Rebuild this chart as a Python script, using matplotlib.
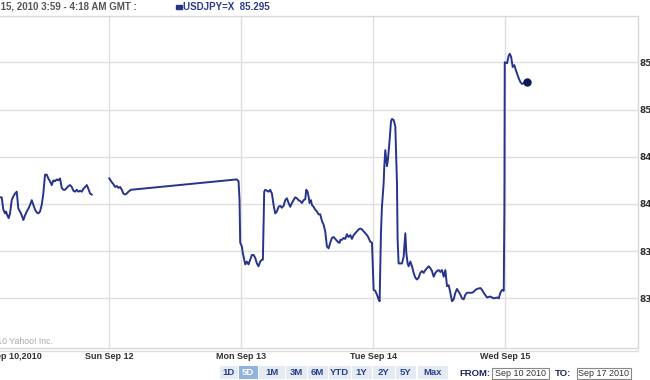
import matplotlib
matplotlib.use("Agg")
import matplotlib.pyplot as plt
from matplotlib.patches import Rectangle
from matplotlib.lines import Line2D

plt.rcParams["font.family"] = ["Liberation Sans", "DejaVu Sans"]

# ---------------- data (hours from Sun Sep 12 00:00 on the chart's time axis) ----------------
fri_hours = [-19.82, -19.51, -19.22, -18.91, -18.73, -18.49, -18.24, -18.00, -17.69, -17.40,
             -17.09, -16.78, -16.49, -16.18, -15.87, -15.58, -15.27, -14.96, -14.67, -14.36,
             -14.05, -13.76, -13.45, -13.15, -12.85, -12.55, -12.24, -11.95, -11.64, -11.33,
             -11.04, -10.73, -10.42, -10.13, -9.82, -9.51, -9.22, -8.91, -8.60, -8.31,
             -8.00, -7.69, -7.40, -7.09, -6.78, -6.49, -6.18, -5.87, -5.58, -5.27,
             -4.96, -4.67, -4.36, -4.05, -3.76, -3.45, -3.15]
fri_price = [84.07, 84.07, 83.94, 83.90, 83.92, 83.88, 83.85, 83.90, 84.04, 84.08,
             84.11, 84.13, 83.95, 83.92, 83.88, 83.83, 83.88, 83.92, 83.95, 83.99,
             84.04, 83.99, 83.94, 83.91, 83.90, 83.92, 83.99, 84.11, 84.31, 84.31,
             84.27, 84.24, 84.20, 84.25, 84.24, 84.26, 84.25, 84.27, 84.17, 84.15,
             84.15, 84.17, 84.19, 84.20, 84.18, 84.14, 84.13, 84.15, 84.13, 84.14,
             84.13, 84.16, 84.18, 84.20, 84.16, 84.11, 84.10]

week_hours = [0.05, 0.49, 0.78, 1.09, 1.40, 1.69, 2.00, 2.31, 2.60, 2.91, 3.20, 3.51, 3.95,
              23.21, 23.52, 23.70, 23.82, 24.12, 24.30, 24.55, 24.73, 25.03, 25.33, 25.64, 25.94,
              26.24, 26.55, 26.85, 27.15, 27.45, 27.76, 27.94, 28.18, 28.36, 28.67, 28.97, 29.27,
              29.58, 29.88, 30.18, 30.48, 30.79, 31.09, 31.39, 31.70, 32.00, 32.30, 32.61, 32.91,
              33.21, 33.51, 33.82, 34.12, 34.42, 34.73, 35.03, 35.33, 35.64, 35.82, 36.06, 36.24,
              36.42, 36.67, 36.85, 37.15, 37.45, 37.76, 38.06, 38.36, 38.67, 38.97, 39.27, 39.57,
              39.88, 40.18, 40.48, 40.79, 41.09, 41.39, 41.70, 41.88, 42.00, 42.30, 42.60, 42.91,
              43.21, 43.51, 43.82, 44.12, 44.42, 44.73, 45.03, 45.33, 45.64, 45.94, 46.24, 46.54,
              46.85, 47.15, 47.45, 47.76, 48.06, 48.36, 48.66, 48.97, 49.15, 49.27, 49.39, 49.57,
              49.88, 50.00, 50.18, 50.36, 50.48, 50.66, 50.97, 51.21, 51.39, 51.69, 52.00, 52.30,
              52.42, 52.60, 52.91, 53.21, 53.39, 53.51, 53.82, 54.00, 54.24, 54.42, 54.73, 55.03,
              55.33, 55.63, 55.94, 56.24, 56.54, 56.85, 57.15, 57.45, 57.76, 58.06, 58.36, 58.66,
              58.97, 59.27, 59.57, 59.88, 60.18, 60.48, 60.79, 61.09, 61.39, 61.70, 62.00, 62.30,
              62.60, 62.91, 63.21, 63.51, 63.82, 64.12, 64.42, 64.73, 65.03, 65.33, 65.94, 66.24,
              66.54, 66.85, 67.45, 67.76, 68.06, 68.66, 69.27, 69.88, 70.48, 70.79, 71.09, 71.39,
              71.70, 71.82, 71.88, 72.30, 72.60, 72.79, 73.03, 73.33, 73.63, 73.88, 74.12, 74.42,
              74.73, 75.03, 75.33, 75.63, 75.94]
week_price = [84.27, 84.23, 84.21, 84.18, 84.19, 84.17, 84.18, 84.15, 84.11, 84.10, 84.11, 84.13, 84.15,
              84.26, 84.24, 84.04, 83.59, 83.55, 83.48, 83.41, 83.36, 83.39, 83.36, 83.41, 83.46,
              83.46, 83.43, 83.37, 83.34, 83.39, 83.41, 83.41, 84.13, 84.15, 84.14, 84.13, 84.15,
              84.11, 83.99, 83.90, 83.92, 83.97, 83.98, 83.96, 83.98, 84.04, 84.06, 84.01, 83.97,
              84.01, 84.04, 84.07, 84.06, 84.04, 84.03, 84.01, 84.04, 84.05, 84.15, 84.13, 84.08,
              84.01, 84.04, 83.99, 83.97, 83.94, 83.92, 83.89, 83.89, 83.82, 83.78, 83.71, 83.55,
              83.53, 83.59, 83.64, 83.65, 83.63, 83.61, 83.59, 83.59, 83.62, 83.62, 83.64, 83.63,
              83.68, 83.65, 83.67, 83.63, 83.67, 83.69, 83.71, 83.73, 83.74, 83.73, 83.71, 83.69,
              83.67, 83.64, 83.60, 83.59, 83.09, 83.08, 83.04, 82.99, 82.97, 83.34, 83.69, 83.97,
              84.22, 84.40, 84.57, 84.47, 84.40, 84.47, 84.68, 84.87, 84.90, 84.89, 84.82, 84.22,
              83.62, 83.37, 83.37, 83.37, 83.41, 83.44, 83.69, 83.48, 83.37, 83.34, 83.39, 83.34,
              83.27, 83.22, 83.20, 83.22, 83.27, 83.29, 83.27, 83.30, 83.32, 83.34, 83.32, 83.29,
              83.23, 83.27, 83.29, 83.30, 83.28, 83.30, 83.23, 83.30, 83.13, 83.14, 83.06, 82.97,
              82.99, 83.06, 83.10, 83.07, 83.04, 83.00, 82.99, 83.04, 83.06, 83.06, 83.06, 83.07,
              83.09, 83.10, 83.11, 83.09, 83.06, 83.01, 83.02, 83.00, 83.01, 83.00, 83.06, 83.09,
              83.08, 83.97, 85.50, 85.49, 85.57, 85.59, 85.56, 85.45, 85.47, 85.42, 85.38, 85.33,
              85.29, 85.27, 85.28, 85.29, 85.295]

xtick_pos = [-18.2, 0, 24, 48, 72]
xtick_labels = ["Fri Sep 10,2010", "Sun Sep 12", "Mon Sep 13", "Tue Sep 14", "Wed Sep 15"]
day_grid = [0, 24, 48, 72]
ytick_vals = [83, 83.5, 84, 84.5, 85, 85.5]
ytick_labels = ["83", "83.5", "84", "84.5", "85", "85.5"]
ranges = ["1D", "5D", "1M", "3M", "6M", "YTD", "1Y", "2Y", "5Y", "Max"]
symbol = "USDJPY=X"
last_quote = "85.295"
title_range = "Sep 15, 2010 3:59 - 4:18 AM GMT :"
from_date = "Sep 10 2010"
to_date = "Sep 17 2010"

# ---------------- layout ----------------
W, H = 650, 380
fig = plt.figure(figsize=(6.5, 3.8), dpi=100)
fig.patch.set_facecolor("white")


def fx(px):
    return px / W


def fy(py):
    return 1 - py / H


ax_left, ax_right, ax_top, ax_bot = 0, 637.5, 16, 348
ax = fig.add_axes([fx(ax_left), fy(ax_bot), fx(ax_right - ax_left), (ax_bot - ax_top) / H])
ax.set_xlim(-19.82, 96.0)
ax.set_ylim(82.475, 85.99)

line_col = "#26348c"
grid_col = "#dedede"
for yv in ytick_vals:
    ax.axhline(yv, color=grid_col, lw=1.0, zorder=0)
for xv in day_grid:
    ax.axvline(xv, color=grid_col, lw=1.0, zorder=0)

ax.plot(fri_hours, fri_price, color=line_col, lw=1.4, solid_joinstyle="round", zorder=3)
ax.plot(week_hours, week_price, color=line_col, lw=1.4, solid_joinstyle="round", zorder=3)
ax.plot([week_hours[-1]], [week_price[-1]], "o", color="#0c1758", ms=5, zorder=4)

ax.spines["left"].set_visible(False)
for s in ["top", "right", "bottom"]:
    ax.spines[s].set_color("#d8d8d8")
    ax.spines[s].set_linewidth(1.0)

ax.yaxis.tick_right()
ax.set_yticks(ytick_vals)
ax.set_yticklabels(ytick_labels)
ax.tick_params(axis="y", length=0, pad=1.5, labelsize=6.5, labelcolor="#333333")
for t in ax.get_yticklabels():
    t.set_fontweight("bold")
    t.set_family("DejaVu Sans")

ax.set_xticks(xtick_pos)
ax.set_xticklabels(xtick_labels)
ax.tick_params(axis="x", length=0, pad=3.0, labelsize=6.5, labelcolor="#333333")
for t in ax.get_xticklabels():
    t.set_fontweight("bold")

# second bottom rule
fig.add_artist(Line2D([fx(0), fx(ax_right)], [fy(351), fy(351)], color="#dcdcdc", lw=1.0))

# header
fig.text(fx(137), fy(7), title_range, ha="right", va="center", fontsize=7,
         fontweight="bold", color="#555555")
fig.add_artist(Rectangle((fx(176), fy(9)), fx(6), 4 / H, color=line_col))
fig.text(fx(183), fy(7), f"{symbol}  {last_quote}", ha="left", va="center", fontsize=7,
         fontweight="bold", color="#2a3a8c")

# copyright
fig.text(fx(53), fy(342), "\u00a92010 Yahoo! Inc.", ha="right", va="center", fontsize=6.3,
         color="#aaaaaa")

# range buttons
btn_edges = [219, 238, 258, 285, 307, 328, 351, 372, 395, 417, 448]
for i, lab in enumerate(ranges):
    x0, x1 = btn_edges[i] + 0.5, btn_edges[i + 1] - 0.5
    active = lab == "5D"
    fc = "#8fb3de" if active else "#e4ebf3"
    fig.add_artist(Rectangle((fx(x0), fy(378.5)), fx(x1 - x0), 12.5 / H,
                             facecolor=fc, edgecolor="none"))
    fig.text(fx((x0 + x1) / 2), fy(372.5), lab, ha="center", va="center", fontsize=6.8,
             fontweight="bold", color="white" if active else "#2a3f8f")

# date range boxes
fig.text(fx(459), fy(373), "FROM:", ha="left", va="center", fontsize=6.8,
         fontweight="bold", color="#1d2a5c")
fig.add_artist(Rectangle((fx(492), fy(379)), fx(57), 11.5 / H, facecolor="white",
                         edgecolor="#888888", lw=0.8))
fig.text(fx(520.5), fy(373.3), from_date, ha="center", va="center", fontsize=6.5,
         color="#333333")
fig.text(fx(555), fy(373), "TO:", ha="left", va="center", fontsize=6.8,
         fontweight="bold", color="#1d2a5c")
fig.add_artist(Rectangle((fx(577), fy(379)), fx(54), 11.5 / H, facecolor="white",
                         edgecolor="#888888", lw=0.8))
fig.text(fx(604), fy(373.3), to_date, ha="center", va="center", fontsize=6.5,
         color="#333333")

fig.savefig("out.png", dpi=100)
